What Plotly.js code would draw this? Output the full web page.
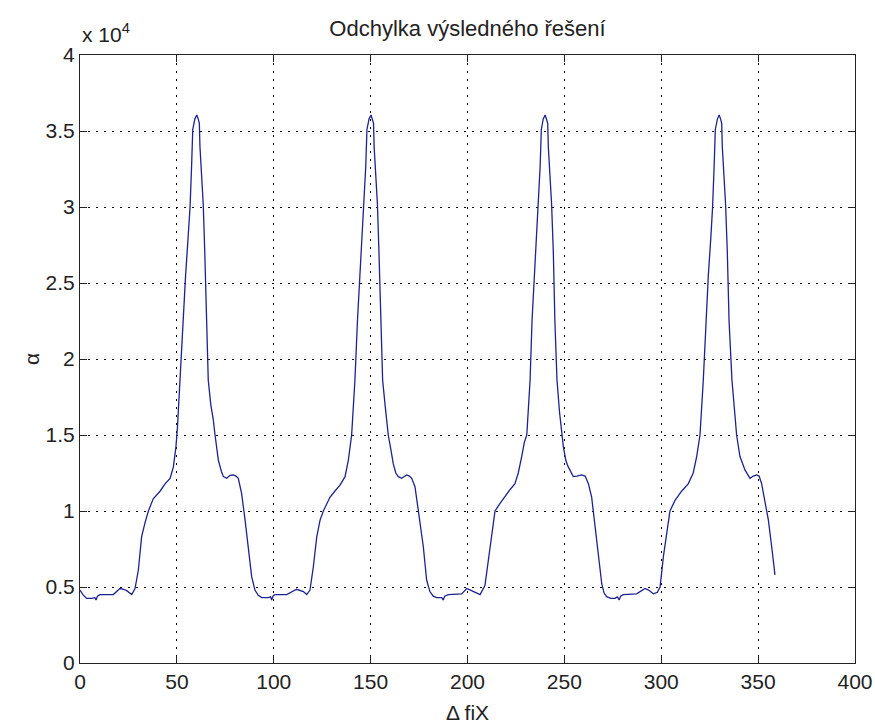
<!DOCTYPE html>
<html>
<head>
<meta charset="utf-8">
<script src="https://cdn.plot.ly/plotly-3.0.1.min.js"></script>
<style>html,body{margin:0;padding:0;background:#fff;}#chart{width:875px;height:724px;}</style>
</head>
<body>
<div id="chart"></div>
<script>
// Δ fiX values (x axis)
const deltaFiX = [
  0, 1.5, 3.4, 6, 7.7, 8.3, 9, 10.3, 17.2, 20.6, 22.5, 24.1, 26.7, 28.4,
  30.1, 31.8, 33.5, 35.3, 37.8, 41.3, 44, 46.5, 48.2, 49.5, 50.3, 51.6,
  53, 54.5, 55.8, 56.8, 57.6, 58.2, 59.3, 60.3, 61, 61.6, 61.9, 62.8, 63.6,
  64.4, 65.2, 66.2, 67.5, 68.8, 69.7, 71.4, 73, 74, 75.7, 77.5, 79.1, 80.5,
  81.7, 82.5, 83.4, 85.2, 86.9, 88.6, 90.3, 92, 93.8, 97.2, 98.4, 98.9, 99.6,
  100.6, 106.7, 111.8, 115.3, 117, 118.7,
  120.4, 122.2, 123.9, 125.6, 129, 131.5, 134.2, 136.8, 138.5, 140.2, 141.9,
  143.2, 144.5, 145.8, 146.7, 147.5, 148.1, 149.2, 150.2, 150.9, 151.5, 151.8,
  152.7, 153.5, 154.3, 155.2, 156.2, 157.6, 159.1, 160.5, 161.7, 163, 164.3,
  166, 167.5, 168.6, 170, 171.2, 172.9, 174.6, 175.9, 177.2, 178.9, 180.6,
  182.3, 184.1, 186.7, 187.5, 188.2, 190.1, 197, 199.6, 201.5, 203, 206.5,
  209, 210.8, 212.5, 214.2, 216.8, 219.5, 221.9, 224.5, 226.2, 228, 229.3,
  230.6, 232.3, 233.3, 234.6, 235.8, 236.7, 237.5, 238.1, 239.1, 240.1, 240.8,
  241.4, 241.7, 242.6, 243.4, 244.3, 245.1, 246.2, 247.5, 249.5, 250.8, 252,
  254.6, 256.5, 258.9, 260.7, 262.4, 264.1, 265.8, 267.5, 269.3, 270.5, 271.8,
  274, 276.1, 277.3, 278.3, 279, 280.4, 287.3, 291.6, 293.5, 295.9, 298, 299.4,
  301.1, 302.8, 304.5, 307.1, 310.5, 314, 316.5, 318.3, 320, 321.7, 323, 324.3,
  325.6, 326.5, 327.3, 327.9, 329, 329.9, 330.6, 331.2, 331.5, 332.4, 333.2,
  334.1, 335, 336.5, 338.9, 340.6, 343.2, 345.8, 347.5, 349.3, 350.5, 351.8,
  353.5, 355.3, 357, 358.7
];
// α values
const alphaVals = [
  4800, 4500, 4250, 4250, 4300, 4150, 4400, 4500, 4500, 4900, 4850, 4760, 4500, 4900,
  6100, 8300, 9200, 10000, 10800, 11300, 11800, 12150, 12900, 14200, 15500, 18600,
  22500, 25500, 28000, 30000, 32700, 35100, 35800, 36050, 35800, 35500, 34000, 32200, 30200,
  27000, 22500, 18600, 17000, 16000, 15000, 13350, 12600, 12260, 12150, 12350, 12370, 12300,
  12150, 11700, 11160, 9400, 7650, 5680, 4800, 4450, 4300, 4300, 4350, 4140, 4400,
  4500, 4500, 4850, 4700, 4500, 4800,
  6300, 8300, 9400, 10000, 10900, 11300, 11700, 12260, 13350, 15000, 18600,
  22500, 25500, 28000, 30000, 32700, 35100, 35800, 36050, 35800, 35500, 34000,
  32200, 30200, 27000, 22500, 18600, 16800, 15000, 14000, 13100, 12500, 12260,
  12150, 12300, 12370, 12300, 12150, 11600, 10000, 8800, 7650, 5460, 4700,
  4400, 4300, 4300, 4140, 4400, 4500, 4550, 4900, 4800, 4700, 4500,
  5100, 6800, 8300, 10000, 10500, 11000, 11400, 11800, 12500, 13600, 14500,
  15000, 18600, 22500, 25500, 28000, 30000, 32700, 35100, 35800, 36050, 35800,
  35500, 34000, 32200, 30200, 27000, 22500, 18600, 16500, 14200, 13300, 12900,
  12260, 12300, 12370, 12300, 11800, 10900, 9000, 7200, 5200, 4600, 4360,
  4250, 4250, 4350, 4150, 4400, 4500, 4550, 4900, 4800, 4550, 4650, 5000,
  7000, 8500, 10000, 10700, 11300, 11800, 12500, 13600, 15000, 18600, 22500, 25500,
  28000, 30000, 32700, 35100, 35800, 36050, 35800, 35500, 34000, 32200, 30200,
  27000, 22500, 18600, 15000, 13600, 12700, 12150, 12300, 12370, 12300, 11800,
  10700, 9400, 7650, 5800
];
const xTickVals = [0, 50, 100, 150, 200, 250, 300, 350, 400];
const yTickVals = [0, 5000, 10000, 15000, 20000, 25000, 30000, 35000, 40000];
const yTickText = ["0", "0.5", "1", "1.5", "2", "2.5", "3", "3.5", "4"];

const FONT = "Liberation Sans, Arial, sans-serif";

const trace = {
  x: deltaFiX, y: alphaVals, type: "scatter", mode: "lines",
  line: {color: "#1c2390", width: 1.3}, hoverinfo: "skip"
};

const axisCommon = {
  showline: true, linecolor: "#222", linewidth: 1, mirror: "ticks",
  ticks: "inside", ticklen: 7, tickcolor: "#222", tickwidth: 1,
  showgrid: true, gridcolor: "#000", gridwidth: 1, griddash: "2px,6px",
  zeroline: false, tickfont: {family: FONT, size: 21, color: "#222"},
  automargin: false, fixedrange: true
};

const layout = {
  width: 875, height: 724,
  margin: {l: 80, r: 20, t: 55, b: 61},
  paper_bgcolor: "#fff", plot_bgcolor: "#fff",
  showlegend: false,
  font: {family: FONT, size: 21, color: "#222"},
  title: {text: "Odchylka výsledného řešení", font: {family: FONT, size: 22, color: "#222"},
          x: 0.5, xref: "paper", y: 1 - 28 / 724, yref: "container", yanchor: "middle"},
  xaxis: Object.assign({}, axisCommon, {
    range: [0, 400], tickvals: xTickVals, ticktext: xTickVals.map(String),
    title: {text: "Δ fiX", font: {family: FONT, size: 21, color: "#222"}, standoff: 17}
  }),
  yaxis: Object.assign({}, axisCommon, {
    range: [0, 40000], tickvals: yTickVals, ticktext: yTickText,
    title: {text: "α", font: {family: FONT, size: 21, color: "#222"}, standoff: 0}
  }),
  annotations: [{
    text: "x 10<sup>4</sup>", xref: "paper", yref: "paper", x: 0, y: 1.012,
    xanchor: "left", yanchor: "bottom", showarrow: false,
    font: {family: FONT, size: 21, color: "#222"}
  }]
};

Plotly.newPlot("chart", [trace], layout, {displayModeBar: false, staticPlot: true});
</script>
</body>
</html>
